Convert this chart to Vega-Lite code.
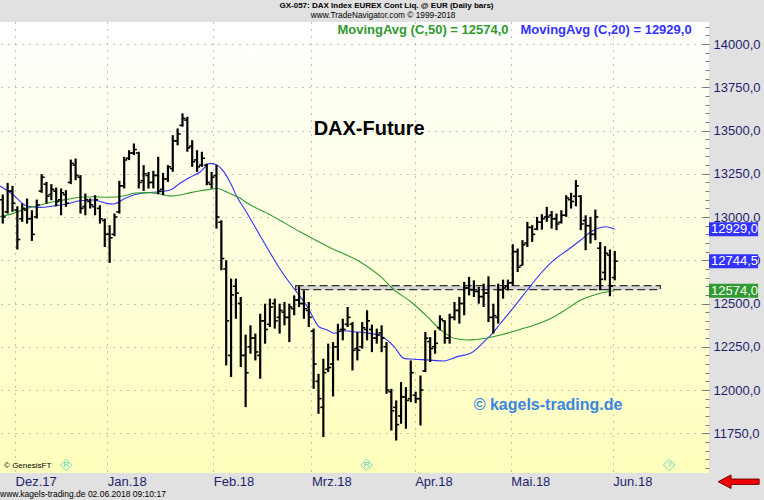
{
  "$schema": "https://vega.github.io/schema/vega-lite/v6.json",
  "width": 709,
  "height": 451,
  "autosize": "none",
  "padding": {"left": 0, "top": 22, "right": 55, "bottom": 27},
  "background": "#e1e1e1",
  "config": {
    "view": {"stroke": null, "fill": {"gradient": "linear", "x1": 0, "y1": 0, "x2": 0, "y2": 1, "stops": [{"offset": 0, "color": "#ffffff"}, {"offset": 1, "color": "#ffffbc"}]}},
    "font": "Liberation Sans"
  },
  "resolve": {"axis": {"x": "independent", "y": "independent"}},
  "datasets": {
    "bars": [
      {"i":-3,"o":13100,"h":13130,"l":12962,"c":13000},
      {"i":-2,"o":13030,"h":13197,"l":13020,"c":13150},
      {"i":-1,"o":13150,"h":13180,"l":13030,"c":13080},
      {"i":0,"o":13040,"h":13062,"l":12812,"c":12870},
      {"i":1,"o":12990,"h":13078,"l":12972,"c":13050},
      {"i":2,"o":13040,"h":13107,"l":12962,"c":12990},
      {"i":3,"o":12990,"h":13039,"l":12862,"c":12900},
      {"i":4,"o":13000,"h":13101,"l":12991,"c":13070},
      {"i":5,"o":13150,"h":13248,"l":13140,"c":13230},
      {"i":6,"o":13190,"h":13203,"l":13078,"c":13120},
      {"i":7,"o":13130,"h":13190,"l":13097,"c":13160},
      {"i":8,"o":13150,"h":13170,"l":13062,"c":13090},
      {"i":9,"o":13100,"h":13165,"l":13010,"c":13140},
      {"i":10,"o":13130,"h":13155,"l":13059,"c":13080},
      {"i":11,"o":13200,"h":13332,"l":13190,"c":13310},
      {"i":12,"o":13300,"h":13338,"l":13213,"c":13240},
      {"i":13,"o":13230,"h":13242,"l":13020,"c":13050},
      {"i":14,"o":13060,"h":13136,"l":13010,"c":13100},
      {"i":15,"o":13090,"h":13107,"l":13049,"c":13070},
      {"i":16,"o":13060,"h":13126,"l":13010,"c":13100},
      {"i":17,"o":13050,"h":13068,"l":12962,"c":12990},
      {"i":18,"o":12980,"h":12991,"l":12827,"c":12900},
      {"i":19,"o":12900,"h":12953,"l":12735,"c":12880},
      {"i":20,"o":12900,"h":13020,"l":12889,"c":13000},
      {"i":21,"o":13030,"h":13209,"l":13020,"c":13180},
      {"i":22,"o":13180,"h":13348,"l":13165,"c":13330},
      {"i":23,"o":13340,"h":13386,"l":13329,"c":13370},
      {"i":24,"o":13370,"h":13425,"l":13358,"c":13390},
      {"i":25,"o":13370,"h":13377,"l":13165,"c":13200},
      {"i":26,"o":13210,"h":13300,"l":13151,"c":13250},
      {"i":27,"o":13240,"h":13261,"l":13165,"c":13200},
      {"i":28,"o":13200,"h":13267,"l":13165,"c":13240},
      {"i":29,"o":13240,"h":13348,"l":13132,"c":13150},
      {"i":30,"o":13160,"h":13255,"l":13126,"c":13220},
      {"i":31,"o":13220,"h":13300,"l":13203,"c":13290},
      {"i":32,"o":13280,"h":13473,"l":13261,"c":13440},
      {"i":33,"o":13440,"h":13512,"l":13415,"c":13480},
      {"i":34,"o":13530,"h":13599,"l":13522,"c":13570},
      {"i":35,"o":13560,"h":13579,"l":13377,"c":13400},
      {"i":36,"o":13410,"h":13444,"l":13290,"c":13320},
      {"i":37,"o":13330,"h":13386,"l":13261,"c":13290},
      {"i":38,"o":13300,"h":13377,"l":13290,"c":13340},
      {"i":39,"o":13300,"h":13309,"l":13184,"c":13200},
      {"i":40,"o":13190,"h":13261,"l":13165,"c":13230},
      {"i":41,"o":13240,"h":13300,"l":12933,"c":13000},
      {"i":42,"o":12970,"h":12981,"l":12692,"c":12760},
      {"i":43,"o":12700,"h":12750,"l":12142,"c":12400},
      {"i":44,"o":12200,"h":12644,"l":12075,"c":12550},
      {"i":45,"o":12600,"h":12644,"l":12412,"c":12560},
      {"i":46,"o":12500,"h":12538,"l":12133,"c":12200},
      {"i":47,"o":12200,"h":12320,"l":11901,"c":12100},
      {"i":48,"o":12250,"h":12374,"l":12210,"c":12300},
      {"i":49,"o":12300,"h":12326,"l":12171,"c":12220},
      {"i":50,"o":12200,"h":12441,"l":12065,"c":12400},
      {"i":51,"o":12400,"h":12499,"l":12268,"c":12350},
      {"i":52,"o":12380,"h":12528,"l":12364,"c":12480},
      {"i":53,"o":12500,"h":12528,"l":12355,"c":12400},
      {"i":54,"o":12420,"h":12499,"l":12326,"c":12460},
      {"i":55,"o":12450,"h":12509,"l":12374,"c":12420},
      {"i":56,"o":12420,"h":12499,"l":12277,"c":12480},
      {"i":57,"o":12470,"h":12547,"l":12432,"c":12520},
      {"i":58,"o":12520,"h":12600,"l":12480,"c":12500},
      {"i":59,"o":12500,"h":12576,"l":12412,"c":12470},
      {"i":60,"o":12460,"h":12509,"l":12364,"c":12420},
      {"i":61,"o":12340,"h":12355,"l":12007,"c":12150},
      {"i":62,"o":12050,"h":12094,"l":11863,"c":11950},
      {"i":63,"o":11900,"h":12181,"l":11728,"c":12100},
      {"i":64,"o":12120,"h":12268,"l":12104,"c":12130},
      {"i":65,"o":12150,"h":12277,"l":11963,"c":12250},
      {"i":66,"o":12250,"h":12383,"l":12171,"c":12340},
      {"i":67,"o":12350,"h":12412,"l":12287,"c":12350},
      {"i":68,"o":12380,"h":12480,"l":12364,"c":12420},
      {"i":69,"o":12380,"h":12393,"l":12113,"c":12230},
      {"i":70,"o":12240,"h":12335,"l":12171,"c":12230},
      {"i":71,"o":12250,"h":12393,"l":12239,"c":12360},
      {"i":72,"o":12350,"h":12461,"l":12287,"c":12400},
      {"i":73,"o":12350,"h":12378,"l":12219,"c":12300},
      {"i":74,"o":12300,"h":12355,"l":12268,"c":12320},
      {"i":75,"o":12330,"h":12374,"l":12219,"c":12300},
      {"i":76,"o":12250,"h":12277,"l":11978,"c":12000},
      {"i":77,"o":11990,"h":12007,"l":11766,"c":11880},
      {"i":78,"o":11900,"h":11940,"l":11708,"c":11800},
      {"i":79,"o":11850,"h":12046,"l":11805,"c":11960},
      {"i":80,"o":11960,"h":12017,"l":11776,"c":11940},
      {"i":81,"o":11950,"h":12171,"l":11930,"c":12100},
      {"i":82,"o":11970,"h":11990,"l":11924,"c":11950},
      {"i":83,"o":11950,"h":12084,"l":11795,"c":12000},
      {"i":84,"o":12110,"h":12335,"l":12104,"c":12300},
      {"i":85,"o":12280,"h":12306,"l":12162,"c":12240},
      {"i":86,"o":12250,"h":12345,"l":12210,"c":12270},
      {"i":87,"o":12360,"h":12432,"l":12345,"c":12410},
      {"i":88,"o":12400,"h":12403,"l":12268,"c":12300},
      {"i":89,"o":12300,"h":12441,"l":12268,"c":12420},
      {"i":90,"o":12420,"h":12509,"l":12403,"c":12460},
      {"i":91,"o":12460,"h":12538,"l":12384,"c":12500},
      {"i":92,"o":12500,"h":12625,"l":12432,"c":12590},
      {"i":93,"o":12590,"h":12654,"l":12547,"c":12580},
      {"i":94,"o":12580,"h":12634,"l":12538,"c":12570},
      {"i":95,"o":12570,"h":12596,"l":12499,"c":12540},
      {"i":96,"o":12540,"h":12615,"l":12480,"c":12560},
      {"i":97,"o":12560,"h":12657,"l":12393,"c":12420},
      {"i":98,"o":12420,"h":12499,"l":12326,"c":12430},
      {"i":99,"o":12420,"h":12615,"l":12384,"c":12580},
      {"i":100,"o":12580,"h":12638,"l":12528,"c":12590},
      {"i":101,"o":12600,"h":12638,"l":12576,"c":12620},
      {"i":102,"o":12620,"h":12843,"l":12605,"c":12800},
      {"i":103,"o":12800,"h":12818,"l":12682,"c":12710},
      {"i":104,"o":12720,"h":12866,"l":12721,"c":12840},
      {"i":105,"o":12850,"h":12972,"l":12827,"c":12940},
      {"i":106,"o":12940,"h":12953,"l":12856,"c":12900},
      {"i":107,"o":12930,"h":13001,"l":12924,"c":12970},
      {"i":108,"o":12970,"h":13016,"l":12927,"c":12990},
      {"i":109,"o":13000,"h":13059,"l":12972,"c":13000},
      {"i":110,"o":13010,"h":13035,"l":12933,"c":12990},
      {"i":111,"o":12990,"h":13020,"l":12924,"c":12960},
      {"i":112,"o":12970,"h":13039,"l":12962,"c":13010},
      {"i":113,"o":13010,"h":13126,"l":13001,"c":13110},
      {"i":114,"o":13100,"h":13140,"l":13049,"c":13090},
      {"i":115,"o":13120,"h":13213,"l":13062,"c":13180},
      {"i":116,"o":13120,"h":13126,"l":12924,"c":12960},
      {"i":117,"o":12980,"h":13010,"l":12808,"c":12950},
      {"i":118,"o":12950,"h":13001,"l":12847,"c":12900},
      {"i":119,"o":12900,"h":13043,"l":12866,"c":13000},
      {"i":120,"o":12820,"h":12856,"l":12576,"c":12640},
      {"i":121,"o":12680,"h":12831,"l":12634,"c":12790},
      {"i":122,"o":12780,"h":12812,"l":12542,"c":12600},
      {"i":123,"o":12650,"h":12804,"l":12634,"c":12744.5}
    ],
    "ma": [
      {"s":"MA20","i":-3.57,"v":13179},{"s":"MA20","i":-0.8,"v":13127},{"s":"MA20","i":1.9,"v":13064},{"s":"MA20","i":4.7,"v":13056},
      {"s":"MA20","i":7.4,"v":13064},{"s":"MA20","i":10.2,"v":13075},{"s":"MA20","i":12.9,"v":13094},{"s":"MA20","i":15.7,"v":13098},
      {"s":"MA20","i":18.4,"v":13079},{"s":"MA20","i":19.8,"v":13075},{"s":"MA20","i":22.2,"v":13108},{"s":"MA20","i":23.9,"v":13127},
      {"s":"MA20","i":26.7,"v":13141},{"s":"MA20","i":29.4,"v":13146},{"s":"MA20","i":31.5,"v":13156},{"s":"MA20","i":33.5,"v":13195},
      {"s":"MA20","i":35.6,"v":13230},{"s":"MA20","i":37.7,"v":13262},{"s":"MA20","i":39.7,"v":13310},{"s":"MA20","i":41.1,"v":13301},
      {"s":"MA20","i":42.5,"v":13262},{"s":"MA20","i":43.9,"v":13195},{"s":"MA20","i":45.2,"v":13117},{"s":"MA20","i":46.9,"v":13041},
      {"s":"MA20","i":50.5,"v":12867},{"s":"MA20","i":54.2,"v":12694},{"s":"MA20","i":56.9,"v":12588},{"s":"MA20","i":59.7,"v":12482},
      {"s":"MA20","i":62.1,"v":12366},{"s":"MA20","i":63.8,"v":12347},{"s":"MA20","i":65.2,"v":12328},{"s":"MA20","i":67.2,"v":12343},
      {"s":"MA20","i":69.3,"v":12337},{"s":"MA20","i":71.7,"v":12331},{"s":"MA20","i":74.8,"v":12312},{"s":"MA20","i":77.6,"v":12250},
      {"s":"MA20","i":79.6,"v":12183},{"s":"MA20","i":81.6,"v":12178},{"s":"MA20","i":84.4,"v":12174},{"s":"MA20","i":87.8,"v":12168},
      {"s":"MA20","i":90.6,"v":12193},{"s":"MA20","i":93.3,"v":12212},{"s":"MA20","i":95.4,"v":12260},{"s":"MA20","i":96.4,"v":12289},
      {"s":"MA20","i":97.5,"v":12318},{"s":"MA20","i":99.5,"v":12386},{"s":"MA20","i":102.3,"v":12482},{"s":"MA20","i":105,"v":12578},
      {"s":"MA20","i":107.8,"v":12675},{"s":"MA20","i":110.5,"v":12752},{"s":"MA20","i":113.3,"v":12809},{"s":"MA20","i":116,"v":12867},
      {"s":"MA20","i":118.1,"v":12915},{"s":"MA20","i":119.5,"v":12935},{"s":"MA20","i":121.2,"v":12944},{"s":"MA20","i":123,"v":12929},
      {"s":"MA50","i":-3.57,"v":13002},{"s":"MA50","i":-0.8,"v":13021},{"s":"MA50","i":1.9,"v":13050},{"s":"MA50","i":4.7,"v":13069},
      {"s":"MA50","i":7.4,"v":13088},{"s":"MA50","i":10.2,"v":13102},{"s":"MA50","i":12.9,"v":13114},{"s":"MA50","i":15.7,"v":13117},
      {"s":"MA50","i":18.4,"v":13114},{"s":"MA50","i":22.2,"v":13123},{"s":"MA50","i":23.9,"v":13137},{"s":"MA50","i":26.7,"v":13141},
      {"s":"MA50","i":29.4,"v":13133},{"s":"MA50","i":31.5,"v":13121},{"s":"MA50","i":33.5,"v":13127},{"s":"MA50","i":35.6,"v":13141},
      {"s":"MA50","i":37.7,"v":13152},{"s":"MA50","i":39.7,"v":13160},{"s":"MA50","i":41.1,"v":13166},{"s":"MA50","i":42.5,"v":13152},
      {"s":"MA50","i":44.5,"v":13127},{"s":"MA50","i":45.9,"v":13108},{"s":"MA50","i":46.9,"v":13088},{"s":"MA50","i":52.1,"v":13012},
      {"s":"MA50","i":58.3,"v":12913},{"s":"MA50","i":64.5,"v":12821},{"s":"MA50","i":70.6,"v":12740},{"s":"MA50","i":74.8,"v":12655},
      {"s":"MA50","i":77.6,"v":12578},{"s":"MA50","i":81,"v":12510},{"s":"MA50","i":84.4,"v":12424},{"s":"MA50","i":87.2,"v":12347},
      {"s":"MA50","i":89.9,"v":12299},{"s":"MA50","i":92.7,"v":12289},{"s":"MA50","i":96.4,"v":12299},{"s":"MA50","i":99.5,"v":12318},
      {"s":"MA50","i":103.6,"v":12351},{"s":"MA50","i":107.8,"v":12389},{"s":"MA50","i":110.5,"v":12424},{"s":"MA50","i":113.3,"v":12472},
      {"s":"MA50","i":116,"v":12520},{"s":"MA50","i":118.8,"v":12549},{"s":"MA50","i":121.5,"v":12568},{"s":"MA50","i":123,"v":12574}
    ]
  },
  "layer": [
    {
      "data": {"name": "bars"},
      "mark": {"type": "rule", "color": "#000000", "strokeWidth": 2.2, "opacity": 0},
      "encoding": {
        "x": {
          "field": "i", "type": "quantitative",
          "scale": {"domain": [-3.57, 142.4], "nice": false, "zero": false},
          "axis": {
            "orient": "bottom", "title": null,
            "values": [-0.47, 18.5, 40.35, 60.56, 81.8, 101.6, 122.6],
            "labelExpr": "datum.value < 0 ? 'Dez.17' : datum.value < 20 ? 'Jan.18' : datum.value < 41 ? 'Feb.18' : datum.value < 61 ? 'Mrz.18' : datum.value < 82 ? 'Apr.18' : datum.value < 102 ? 'Mai.18' : 'Jun.18'",
            "labelAlign": "left", "labelBaseline": "top", "labelPadding": 2,
            "labelFont": "Liberation Sans", "labelFontSize": 13, "labelColor": "#1f1f6e",
            "labelFlush": false, "labelOverlap": false, "labelBound": false,
            "ticks": false, "domain": false,
            "grid": true, "gridColor": "#8c8c8c", "gridDash": [1, 6], "gridWidth": 1
          }
        },
        "y": {
          "field": "h", "type": "quantitative",
          "scale": {"domain": [11520.4, 14127.2], "nice": false, "zero": false},
          "axis": {
            "orient": "right", "title": null,
            "values": [11550,11600,11650,11700,11750,11800,11850,11900,11950,12000,12050,12100,12150,12200,12250,12300,12350,12400,12450,12500,12550,12600,12650,12700,12750,12800,12850,12900,12950,13000,13050,13100,13150,13200,13250,13300,13350,13400,13450,13500,13550,13600,13650,13700,13750,13800,13850,13900,13950,14000,14050,14100],
            "labelExpr": "datum.value % 250 === 0 ? replace(format(datum.value, '.1f'), '.', ',') : ''",
            "labelAlign": "left", "labelBaseline": "middle",
            "labelFont": "Liberation Sans", "labelFontSize": 13, "labelColor": "#1f1f6e",
            "labelPadding": 11, "labelFlush": false, "labelOverlap": false, "labelBound": false,
            "domain": false,
            "tickColor": "#7a7a7a",
            "tickSize": {"condition": {"test": "datum.value % 250 === 0", "value": -7}, "value": -4},
            "grid": true, "gridColor": "#8c8c8c", "gridDash": [1, 6], "gridWidth": 1,
            "gridOpacity": {"condition": {"test": "datum.value % 250 === 0", "value": 1}, "value": 0}
          }
        },
        "y2": {"field": "l"}
      }
    },
    {
      "data": {"values": [{"i1": 57.3, "i2": 132.4, "v1": 12580, "v2": 12603}]},
      "mark": {"type": "rect", "fill": "#d6d6d6", "stroke": "#333333", "strokeWidth": 1.2, "strokeDash": [8, 4]},
      "encoding": {
        "x": {"field": "i1", "type": "quantitative", "scale": {"domain": [-3.57, 142.4], "nice": false, "zero": false}, "axis": null},
        "x2": {"field": "i2"},
        "y": {"field": "v1", "type": "quantitative", "scale": {"domain": [11520.4, 14127.2], "nice": false, "zero": false}, "axis": null},
        "y2": {"field": "v2"}
      }
    },
    {
      "data": {"name": "ma"},
      "mark": {"type": "line", "strokeWidth": 1.1, "interpolate": "monotone"},
      "encoding": {
        "x": {"field": "i", "type": "quantitative", "scale": {"domain": [-3.57, 142.4], "nice": false, "zero": false}, "axis": null},
        "y": {"field": "v", "type": "quantitative", "scale": {"domain": [11520.4, 14127.2], "nice": false, "zero": false}, "axis": null},
        "color": {"field": "s", "type": "nominal", "scale": {"domain": ["MA20", "MA50"], "range": ["#3333ff", "#2f9a2f"]}, "legend": null}
      }
    },
    {
      "data": {"name": "bars"},
      "mark": {"type": "rule", "color": "#000000", "strokeWidth": 2.2},
      "encoding": {
        "x": {"field": "i", "type": "quantitative", "scale": {"domain": [-3.57, 142.4], "nice": false, "zero": false}, "axis": null},
        "y": {"field": "h", "type": "quantitative", "scale": {"domain": [11520.4, 14127.2], "nice": false, "zero": false}, "axis": null},
        "y2": {"field": "l"}
      }
    },
    {
      "data": {"name": "bars"},
      "mark": {"type": "rule", "color": "#000000", "strokeWidth": 1.6, "xOffset": -3, "x2Offset": 0},
      "encoding": {
        "x": {"field": "i", "type": "quantitative", "scale": {"domain": [-3.57, 142.4], "nice": false, "zero": false}, "axis": null},
        "x2": {"field": "i"},
        "y": {"field": "o", "type": "quantitative", "scale": {"domain": [11520.4, 14127.2], "nice": false, "zero": false}, "axis": null}
      }
    },
    {
      "data": {"name": "bars"},
      "mark": {"type": "rule", "color": "#000000", "strokeWidth": 1.6, "xOffset": 0, "x2Offset": 3},
      "encoding": {
        "x": {"field": "i", "type": "quantitative", "scale": {"domain": [-3.57, 142.4], "nice": false, "zero": false}, "axis": null},
        "x2": {"field": "i"},
        "y": {"field": "c", "type": "quantitative", "scale": {"domain": [11520.4, 14127.2], "nice": false, "zero": false}, "axis": null}
      }
    },
    {
      "data": {"values": [{"i1": 142.4, "i2": 152.5, "v": 12929, "k": "MA20"}, {"i1": 142.4, "i2": 152.5, "v": 12744.5, "k": "Last"}, {"i1": 142.4, "i2": 152.5, "v": 12574, "k": "MA50"}]},
      "mark": {"type": "rect", "height": 14},
      "encoding": {
        "x": {"field": "i1", "type": "quantitative", "scale": {"domain": [-3.57, 142.4], "nice": false, "zero": false}, "axis": null},
        "x2": {"field": "i2"},
        "y": {"field": "v", "type": "quantitative", "scale": {"domain": [11520.4, 14127.2], "nice": false, "zero": false}, "axis": null},
        "color": {"field": "k", "type": "nominal", "scale": {"domain": ["MA20", "Last", "MA50"], "range": ["#0000ff", "#000000", "#0f7f0f"]}, "legend": null}
      }
    },
    {
      "data": {"values": [{"i1": 142.4, "v": 12929, "lab": "12929,0"}, {"i1": 142.4, "v": 12744.5, "lab": "12744,5"}, {"i1": 142.4, "v": 12574, "lab": "12574,0"}]},
      "mark": {"type": "text", "align": "left", "baseline": "middle", "dx": 2, "fontSize": 13, "font": "Liberation Sans", "color": "#ffffff"},
      "encoding": {
        "x": {"field": "i1", "type": "quantitative", "scale": {"domain": [-3.57, 142.4], "nice": false, "zero": false}, "axis": null},
        "y": {"field": "v", "type": "quantitative", "scale": {"domain": [11520.4, 14127.2], "nice": false, "zero": false}, "axis": null},
        "text": {"field": "lab"}
      }
    },
    {
      "data": {"values": [{"i": 61, "v": 13506, "t": "DAX-Future"}]},
      "mark": {"type": "text", "align": "left", "baseline": "middle", "font": "Liberation Sans", "fontWeight": "bold", "fontSize": 20, "color": "#000000"},
      "encoding": {
        "x": {"field": "i", "type": "quantitative", "scale": {"domain": [-3.57, 142.4], "nice": false, "zero": false}, "axis": null},
        "y": {"field": "v", "type": "quantitative", "scale": {"domain": [11520.4, 14127.2], "nice": false, "zero": false}, "axis": null},
        "text": {"field": "t"}
      }
    },
    {
      "data": {"values": [{"i": 65.9, "v": 14083, "t": "MovingAvg (C,50) = 12574,0", "k": "MA50"}, {"i": 103.6, "v": 14083, "t": "MovingAvg (C,20) = 12929,0", "k": "MA20"}]},
      "mark": {"type": "text", "align": "left", "baseline": "middle", "font": "Liberation Sans", "fontWeight": "bold", "fontSize": 13},
      "encoding": {
        "x": {"field": "i", "type": "quantitative", "scale": {"domain": [-3.57, 142.4], "nice": false, "zero": false}, "axis": null},
        "y": {"field": "v", "type": "quantitative", "scale": {"domain": [11520.4, 14127.2], "nice": false, "zero": false}, "axis": null},
        "text": {"field": "t"},
        "color": {"field": "k", "type": "nominal", "scale": {"domain": ["MA20", "MA50"], "range": ["#0000ff", "#0f850f"]}, "legend": null}
      }
    },
    {
      "data": {"values": [{"i": 93.96, "v": 11916, "t": "© kagels-trading.de"}]},
      "mark": {"type": "text", "align": "left", "baseline": "middle", "font": "Liberation Sans", "fontWeight": "bold", "fontSize": 16, "color": "#3a86e0"},
      "encoding": {
        "x": {"field": "i", "type": "quantitative", "scale": {"domain": [-3.57, 142.4], "nice": false, "zero": false}, "axis": null},
        "y": {"field": "v", "type": "quantitative", "scale": {"domain": [11520.4, 14127.2], "nice": false, "zero": false}, "axis": null},
        "text": {"field": "t"}
      }
    },
    {
      "data": {"values": [{"i": -2.74, "v": 11561, "t": "© GenesisFT"}]},
      "mark": {"type": "text", "align": "left", "baseline": "middle", "font": "Liberation Sans", "fontSize": 8, "color": "#000000"},
      "encoding": {
        "x": {"field": "i", "type": "quantitative", "scale": {"domain": [-3.57, 142.4], "nice": false, "zero": false}, "axis": null},
        "y": {"field": "v", "type": "quantitative", "scale": {"domain": [11520.4, 14127.2], "nice": false, "zero": false}, "axis": null},
        "text": {"field": "t"}
      }
    },
    {
      "data": {"values": [{"i": 10.05, "v": 11567, "t": "R"}, {"i": 71.9, "v": 11567, "t": "R"}, {"i": 134.2, "v": 11567, "t": "?"}]},
      "mark": {"type": "point", "shape": "diamond", "size": 130, "filled": false, "stroke": "#3fcfbf", "strokeWidth": 1},
      "encoding": {
        "x": {"field": "i", "type": "quantitative", "scale": {"domain": [-3.57, 142.4], "nice": false, "zero": false}, "axis": null},
        "y": {"field": "v", "type": "quantitative", "scale": {"domain": [11520.4, 14127.2], "nice": false, "zero": false}, "axis": null}
      }
    },
    {
      "data": {"values": [{"i": 10.05, "v": 11567, "t": "R"}, {"i": 71.9, "v": 11567, "t": "R"}, {"i": 134.2, "v": 11567, "t": "?"}]},
      "mark": {"type": "text", "align": "center", "baseline": "middle", "font": "Liberation Sans", "fontSize": 8, "color": "#3fcfbf"},
      "encoding": {
        "x": {"field": "i", "type": "quantitative", "scale": {"domain": [-3.57, 142.4], "nice": false, "zero": false}, "axis": null},
        "y": {"field": "v", "type": "quantitative", "scale": {"domain": [11520.4, 14127.2], "nice": false, "zero": false}, "axis": null},
        "text": {"field": "t"}
      }
    },
    {
      "data": {"values": [{"i": 76.0, "v": 14220, "t": "GX-057:  DAX Index EUREX Cont Liq. @ EUR  (Daily bars)"}]},
      "mark": {"type": "text", "align": "center", "baseline": "middle", "font": "Liberation Sans", "fontWeight": "bold", "fontSize": 8, "color": "#000000"},
      "encoding": {
        "x": {"field": "i", "type": "quantitative", "scale": {"domain": [-3.57, 142.4], "nice": false, "zero": false}, "axis": null},
        "y": {"field": "v", "type": "quantitative", "scale": {"domain": [11520.4, 14127.2], "nice": false, "zero": false}, "axis": null},
        "text": {"field": "t"}
      }
    },
    {
      "data": {"values": [{"i": 75.3, "v": 14162, "t": "www.TradeNavigator.com © 1999-2018"}]},
      "mark": {"type": "text", "align": "center", "baseline": "middle", "font": "Liberation Sans", "fontSize": 8.3, "color": "#000000"},
      "encoding": {
        "x": {"field": "i", "type": "quantitative", "scale": {"domain": [-3.57, 142.4], "nice": false, "zero": false}, "axis": null},
        "y": {"field": "v", "type": "quantitative", "scale": {"domain": [11520.4, 14127.2], "nice": false, "zero": false}, "axis": null},
        "text": {"field": "t"}
      }
    },
    {
      "data": {"values": [{"i": -3.57, "v": 11399, "t": "www.kagels-trading.de   02.06.2018 09:10:17"}]},
      "mark": {"type": "text", "align": "left", "baseline": "middle", "font": "Liberation Sans", "fontSize": 8.5, "color": "#000000"},
      "encoding": {
        "x": {"field": "i", "type": "quantitative", "scale": {"domain": [-3.57, 142.4], "nice": false, "zero": false}, "axis": null},
        "y": {"field": "v", "type": "quantitative", "scale": {"domain": [11520.4, 14127.2], "nice": false, "zero": false}, "axis": null},
        "text": {"field": "t"}
      }
    },
    {
      "data": {"values": [{"i": 148.5, "v": 11470}]},
      "mark": {"type": "point", "shape": "M -1 0 L -0.37 -0.33 L -0.37 -0.13 L 1 -0.13 L 1 0.13 L -0.37 0.13 L -0.37 0.33 Z", "size": 1681, "filled": true, "fill": "#f00000", "stroke": "#7a0000", "strokeWidth": 1, "opacity": 1},
      "encoding": {
        "x": {"field": "i", "type": "quantitative", "scale": {"domain": [-3.57, 142.4], "nice": false, "zero": false}, "axis": null},
        "y": {"field": "v", "type": "quantitative", "scale": {"domain": [11520.4, 14127.2], "nice": false, "zero": false}, "axis": null}
      }
    }
  ]
}
